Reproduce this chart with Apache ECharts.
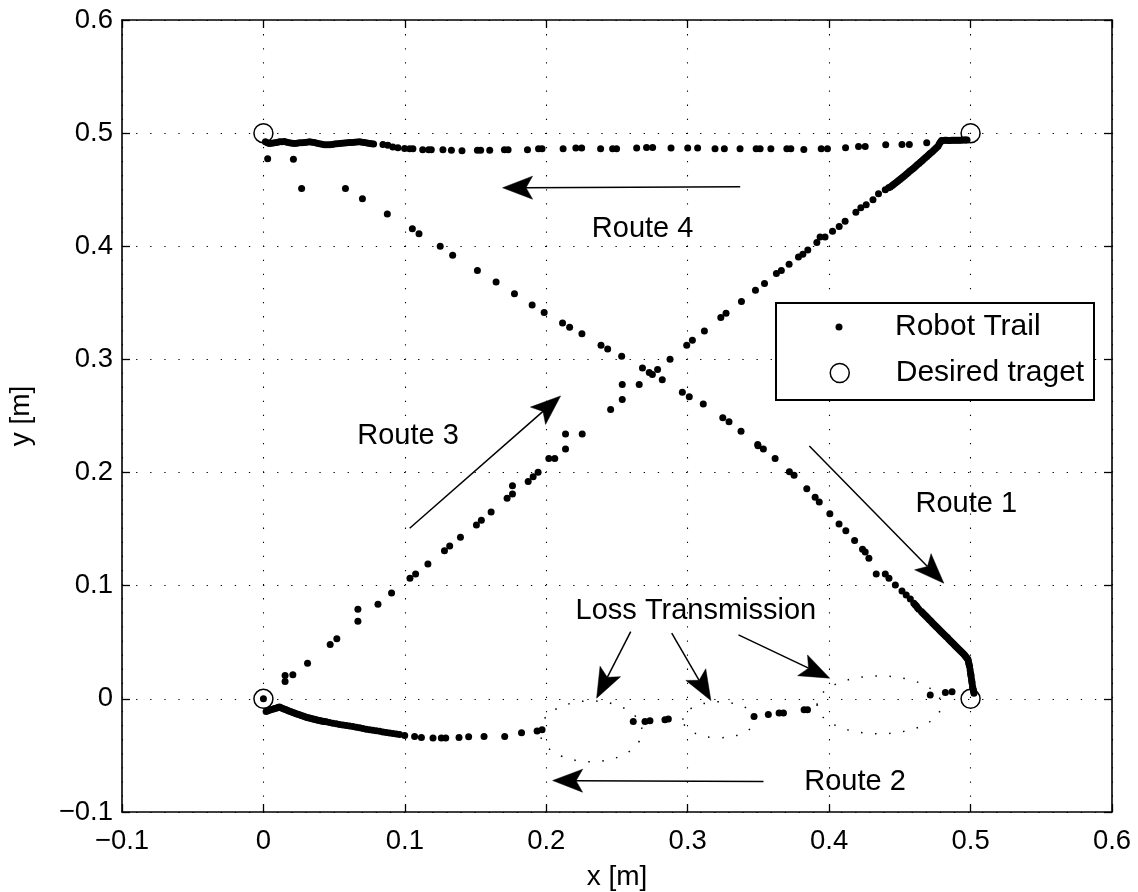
<!DOCTYPE html>
<html><head><meta charset="utf-8">
<script src="https://cdn.jsdelivr.net/npm/echarts@6/dist/echarts.min.js"></script>
<style>html,body{margin:0;padding:0;background:#fff}#chart{width:1138px;height:892px}</style>
</head><body><div id="chart"></div>
<script>
// ---------- data (metres) ----------
const xTicks = [-0.1, 0, 0.1, 0.2, 0.3, 0.4, 0.5, 0.6];
const yTicks = [-0.1, 0, 0.1, 0.2, 0.3, 0.4, 0.5, 0.6];

const targetPoints = [[0, 0.5], [0.5, 0.5], [0, 0], [0.5, 0]];

const route1Trail = [
  [0.003,0.4774],[0.0212,0.477],[0.027,0.451],[0.058,0.451],[0.070,0.442],[0.0876,0.4285],
  [0.1053,0.4156],[0.110,0.411],[0.125,0.400],[0.1338,0.392],[0.1513,0.3785],[0.1645,0.3685],
  [0.1775,0.358],[0.190,0.348],[0.1985,0.3415],[0.2115,0.3323],[0.2165,0.3285],[0.2252,0.3226],
  [0.2387,0.3126],[0.2434,0.3093],[0.2533,0.3029],[0.268,0.2925],[0.2728,0.2885],[0.275,0.2866],
  [0.282,0.282],[0.2962,0.271],[0.3011,0.267],[0.311,0.2605],[0.3248,0.2484],[0.3292,0.2449],
  [0.3377,0.2366],[0.3495,0.2249],[0.3497,0.2236],[0.3535,0.2208],[0.3618,0.2125],[0.3719,0.2007],
  [0.3752,0.1976],[0.3842,0.1857],[0.3901,0.1781],[0.393,0.174],[0.4005,0.1636],[0.407,0.1545],
  [0.4118,0.1486],[0.418,0.140],[0.4236,0.1322],[0.4255,0.1298],[0.4281,0.1242],[0.4333,0.1104],
  [0.4397,0.1104],[0.4423,0.1066],[0.4468,0.1007],[0.4515,0.0954],[0.4545,0.0918],[0.4574,0.0883],
  [0.4599,0.0845],[0.4608,0.0832],[0.4617,0.0820],[0.4625,0.0806],[0.4634,0.0792],[0.4652,0.0772],
  [0.4660,0.0761],[0.4669,0.0751],[0.4678,0.0740],[0.4687,0.0728],[0.4696,0.0716],[0.4705,0.0704],
  [0.4713,0.0694],[0.4722,0.0683],[0.4731,0.0671],[0.4740,0.0660],[0.4749,0.0649],[0.4758,0.0638],
  [0.4767,0.0627],[0.4776,0.0616],[0.4784,0.0605],[0.4793,0.0594],[0.4802,0.0583],[0.4811,0.0572],
  [0.4820,0.0561],[0.4829,0.0550],[0.4838,0.0539],[0.4846,0.0527],[0.4855,0.0516],[0.4864,0.0505],
  [0.4873,0.0494],[0.4882,0.0483],[0.4890,0.0472],[0.4899,0.0461],[0.4908,0.0450],[0.4917,0.0439],
  [0.4926,0.0428],[0.4935,0.0417],[0.4944,0.0406],[0.4953,0.0395],[0.4960,0.0384],[0.4967,0.0373],
  [0.4974,0.0362],[0.4981,0.0351],[0.4984,0.0334],[0.4987,0.0318],[0.4990,0.0301],[0.4993,0.0285],
  [0.4997,0.0256],[0.5000,0.0227],[0.5002,0.0212],[0.5004,0.0198],[0.5007,0.0168],[0.5009,0.0153],
  [0.5011,0.0139],[0.5014,0.0109],[0.5016,0.0094],[0.5019,0.0080],[0.5022,0.0065],[0.5024,0.0050]
];

const route2Trail = [
  [0.0019,-0.0112],[0.0030,-0.0106],[0.0042,-0.0100],[0.0054,-0.0095],[0.0066,-0.0091],[0.0078,-0.0086],
  [0.0090,-0.0082],[0.0101,-0.0077],[0.0113,-0.0073],[0.0125,-0.0079],[0.0137,-0.0085],[0.0149,-0.0091],
  [0.0161,-0.0097],[0.0172,-0.0103],[0.0184,-0.0109],[0.0196,-0.0115],[0.0208,-0.0121],[0.0219,-0.0126],
  [0.0231,-0.0131],[0.0243,-0.0136],[0.0255,-0.0141],[0.0267,-0.0147],[0.0279,-0.0152],[0.0290,-0.0157],
  [0.0302,-0.0162],[0.0314,-0.0166],[0.0326,-0.0170],[0.0338,-0.0174],[0.0349,-0.0177],[0.0361,-0.0181],
  [0.0373,-0.0185],[0.0385,-0.0189],[0.0397,-0.0192],[0.0408,-0.0195],[0.0420,-0.0198],[0.0432,-0.0201],
  [0.0444,-0.0203],[0.0467,-0.0209],[0.0491,-0.0215],[0.0515,-0.0221],[0.0538,-0.0227],[0.0562,-0.0232],
  [0.0586,-0.0236],[0.0609,-0.0241],[0.0633,-0.0245],[0.0657,-0.0251],[0.0680,-0.0256],[0.0703,-0.0262],
  [0.0727,-0.0268],[0.0751,-0.0273],[0.0774,-0.0277],[0.0798,-0.0282],[0.0822,-0.0286],[0.0845,-0.0292],
  [0.0869,-0.0298],[0.0892,-0.0302],[0.0916,-0.0306],[0.0940,-0.0311],[0.0963,-0.0315],[0.0999,-0.0324],
  [0.1069,-0.0333],[0.1117,-0.0342],[0.1199,-0.0347],[0.1258,-0.0347],[0.1289,-0.0345],[0.1383,-0.0342],
  [0.1451,-0.0336],[0.156,-0.0333],[0.1706,-0.0333],[0.1825,-0.030],[0.1935,-0.0283],[0.197,-0.0274],
  [0.2615,-0.020],[0.2698,-0.020],[0.2733,-0.0194],[0.2839,-0.0185],[0.2863,-0.0179],
  [0.3469,-0.0156],[0.357,-0.0139],[0.3646,-0.0126],[0.3677,-0.0126],[0.3823,-0.0097],[0.3847,-0.0097],
  [0.4715,0.0035],[0.4822,0.0056],[0.4869,0.0062]
];

const route3Trail = [
  [0.0,0.0],[0.0153,0.0206],[0.0208,0.0212],[0.0153,0.0153],[0.0312,0.0315],[0.0472,0.048],[0.0519,0.0532],
  [0.0668,0.0792],[0.0668,0.0686],[0.081,0.0836],[0.0906,0.0936],[0.1036,0.1066],[0.1076,0.1104],
  [0.1163,0.1192],[0.128,0.131],[0.1317,0.1351],[0.1393,0.1428],[0.1506,0.1536],[0.1541,0.1578],
  [0.161,0.1651],[0.1723,0.1772],[0.1761,0.181],[0.1761,0.1883],[0.1872,0.1922],[0.1907,0.1963],
  [0.1942,0.2002],[0.2018,0.2125],[0.206,0.2125],[0.2136,0.2208],[0.2136,0.234],[0.2254,0.234],
  [0.2455,0.2558],[0.2537,0.2646],[0.2537,0.2779],[0.2657,0.2779],[0.2787,0.291],[0.2875,0.3002],
  [0.2993,0.3126],[0.3033,0.317],[0.3118,0.3252],[0.3234,0.337],[0.3271,0.3408],[0.338,0.3512],
  [0.3479,0.3611],[0.3543,0.367],[0.3627,0.3759],[0.3662,0.3785],[0.3717,0.3841],[0.3783,0.3906],
  [0.3814,0.393],[0.3849,0.3967],[0.3913,0.4033],[0.3936,0.4082],[0.3971,0.4082],[0.4024,0.4132],
  [0.4071,0.4174],[0.4113,0.4221],[0.4189,0.43],[0.4224,0.4341],[0.4262,0.4367],[0.431,0.4412],
  [0.4349,0.4465],[0.4397,0.45],[0.442,0.4518],
  [0.4432,0.4524],[0.4444,0.4535],[0.4455,0.4545],[0.4466,0.4557],[0.4478,0.4568],[0.4489,0.4579],
  [0.4500,0.4590],[0.4511,0.4601],[0.4522,0.4612],[0.4533,0.4624],[0.4545,0.4636],[0.4556,0.4648],
  [0.4567,0.4660],[0.4578,0.4672],[0.4590,0.4683],[0.4601,0.4695],[0.4612,0.4707],[0.4623,0.4720],
  [0.4635,0.4732],[0.4646,0.4745],[0.4657,0.4757],[0.4668,0.4770],[0.4680,0.4782],[0.4691,0.4794],
  [0.4702,0.4806],[0.4713,0.4819],[0.4725,0.4832],[0.4736,0.4845],[0.4747,0.4858],[0.4758,0.4872],
  [0.4770,0.4885],[0.4778,0.4903],[0.4786,0.4920],
  [0.4795,0.4934],[0.4805,0.4936],[0.4818,0.4937],[0.4830,0.4937],[0.4843,0.4936],[0.4855,0.4936],
  [0.4868,0.4937],[0.4880,0.4938],[0.4893,0.4937],[0.4905,0.4937],[0.4918,0.4938],[0.4930,0.4938],
  [0.4943,0.4939],[0.4955,0.4940],[0.4965,0.4940],[0.4975,0.4940]
];

const route4Trail = [
  [0.469,0.4916],[0.4567,0.490],[0.4515,0.490],[0.440,0.4898],[0.4255,0.4883],[0.4208,0.4883],
  [0.4116,0.4871],[0.3988,0.4862],[0.3944,0.4862],[0.3821,0.4856],[0.3729,0.4862],[0.3701,0.4862],
  [0.3588,0.4862],[0.3512,0.4862],[0.3484,0.4862],[0.337,0.4862],[0.3259,0.4862],[0.3193,0.4862],
  [0.307,0.4868],[0.300,0.4868],[0.2882,0.4868],[0.2752,0.4874],[0.2709,0.4874],[0.2639,0.4868],
  [0.2497,0.4863],[0.2469,0.4863],[0.2384,0.4863],[0.225,0.4868],[0.2209,0.4868],[0.2119,0.4863],
  [0.197,0.4863],[0.1945,0.4863],[0.1867,0.4853],[0.173,0.4853],[0.1704,0.4853],[0.160,0.4848],
  [0.1536,0.4848],[0.1513,0.4848],[0.1404,0.4845],[0.1329,0.4848],[0.1269,0.4853],[0.1187,0.4853],
  [0.1168,0.4853],[0.1126,0.4853],[0.1057,0.4861],[0.1034,0.4861],[0.0998,0.4864],[0.0951,0.4871],
  [0.0915,0.4877],[0.088,0.4892],[0.0845,0.490],
  [0.0779,0.4903],[0.0765,0.4906],[0.0751,0.4909],[0.0733,0.4913],[0.0715,0.4917],[0.0697,0.4920],
  [0.068,0.4923],[0.0662,0.4922],[0.0644,0.492],[0.0626,0.4918],[0.0609,0.4917],[0.0591,0.4914],
  [0.0574,0.4912],[0.0556,0.4910],[0.0538,0.4909],[0.0520,0.4906],[0.0503,0.4903],[0.0485,0.4900],
  [0.0467,0.4897],[0.0450,0.4897],[0.0432,0.4897],[0.0414,0.4901],[0.0397,0.4906],[0.0379,0.4911],
  [0.0361,0.4917],[0.0343,0.4920],[0.0326,0.4923],[0.0308,0.4920],[0.029,0.4917],[0.0272,0.4915],
  [0.0255,0.4914],[0.0237,0.4911],[0.022,0.4909],[0.0202,0.4911],[0.0184,0.4914],[0.0166,0.4920],
  [0.0149,0.4926],[0.0131,0.4925],[0.0113,0.4923],[0.0095,0.4918],[0.0078,0.4914],[0.0060,0.4911],
  [0.0042,0.4909],[0.0028,0.4916],[0.0014,0.4923]
];

// dotted "loss transmission" ellipses: [centreX, centreY, radiusX, radiusY]
const lossEllipses = [
  [0.2316, -0.0287, 0.0361, 0.0269],
  [0.3221, -0.0185, 0.0255, 0.0159],
  [0.4354, -0.0053, 0.0439, 0.0256]
];

// annotation arrows: [tailX, tailY, tipX, tipY]
const annotationArrows = [
  [0.3371, 0.4526, 0.1691, 0.4517],   // Route 4
  [0.1034, 0.1508, 0.2101, 0.2677],   // Route 3
  [0.3860, 0.2235, 0.4811, 0.1022],   // Route 1
  [0.3536, -0.0731, 0.2045, -0.0722], // Route 2
  [0.2597, 0.0595, 0.2356, 0.0006],   // Loss 1
  [0.2887, 0.0580, 0.3164, -0.0015],  // Loss 2
  [0.3359, 0.0565, 0.4004, 0.0183]    // Loss 3
];

const annotationTexts = ['Route 4', 'Route 3', 'Route 1', 'Route 2', 'Loss Transmission'];
const annotationPositions = [
  [0.2681, 0.4151], [0.1022, 0.2324], [0.4970, 0.1719], [0.4183, -0.0733], [0.3058, 0.0776]
];

// ---------- chart ----------
const FONT = "'Liberation Sans', Arial, Helvetica, sans-serif";
const robotTrail = route1Trail.concat(route2Trail, route3Trail, route4Trail);

function tickFmt(v) {
  if (Math.abs(v) < 1e-9) return '0';
  return v.toFixed(1).replace('-', '\u2212');
}

const gridDash = { color: '#000', width: 1.1, type: [1.3, 12.8] };
const axisLineStyle = { color: '#000', width: 1.6 };

function mainAxis(pos, isX) {
  return {
    type: 'value', position: pos,
    min: xTicks[0], max: xTicks[xTicks.length - 1], interval: 0.1,
    axisLine: { show: true, onZero: false, lineStyle: axisLineStyle },
    axisTick: { show: true, inside: true, length: 8, lineStyle: { color: '#000', width: 1.3 } },
    axisLabel: { show: true, formatter: tickFmt, fontSize: 27.5, color: '#000', fontFamily: FONT, margin: isX ? 15 : 9 },
    splitLine: { show: true, lineStyle: gridDash },
    name: isX ? 'x [m]' : 'y [m]',
    nameLocation: 'middle',
    nameGap: isX ? 51 : 87,
    nameTextStyle: { fontSize: 28, color: '#000', fontFamily: FONT }
  };
}
function boxAxis(pos) {
  return {
    type: 'value', position: pos,
    min: -0.1, max: 0.6, interval: 0.1,
    axisLine: { show: true, onZero: false, lineStyle: axisLineStyle },
    axisTick: { show: true, inside: true, length: 8, lineStyle: { color: '#000', width: 1.3 } },
    axisLabel: { show: false },
    splitLine: { show: false }
  };
}

const chart = echarts.init(document.getElementById('chart'), null, { renderer: 'canvas' });

chart.setOption({
  backgroundColor: '#fff',
  animation: false,
  grid: { left: 122, right: 26, top: 20, bottom: 80, containLabel: false, outerBoundsMode: 'none' },
  xAxis: [mainAxis('bottom', true), boxAxis('top')],
  yAxis: [Object.assign(mainAxis('left', false), { min: yTicks[0], max: yTicks[yTicks.length - 1] }), boxAxis('right')],
  legend: [
    {
      data: ['Robot Trail'], orient: 'vertical', left: 835.5, top: 312, padding: 0,
      itemWidth: 7, itemHeight: 7, selectedMode: false, z: 6,
      itemStyle: { color: '#000', borderWidth: 0 },
      textStyle: { fontSize: 30, color: '#000', fontFamily: FONT, padding: [0, 0, 0, 47.5] }
    },
    {
      data: ['Desired traget'], orient: 'vertical', left: 829.5, top: 358, padding: 0,
      itemWidth: 19, itemHeight: 19, selectedMode: false, z: 6,
      itemStyle: { color: 'rgba(0,0,0,0)', borderColor: '#000', borderWidth: 1.5 },
      textStyle: { fontSize: 30, color: '#000', fontFamily: FONT, padding: [0, 0, 0, 41.5] }
    }
  ],
  graphic: [{
    type: 'rect', left: 775, top: 302, z: 5,
    shape: { width: 318, height: 97 },
    style: { fill: '#fff', stroke: '#000', lineWidth: 2 }
  }],
  series: [
    {
      type: 'custom', name: 'loss', xAxisIndex: 0, yAxisIndex: 0, z: 2,
      data: lossEllipses,
      encode: { x: 0, y: 1 },
      renderItem: function (params, api) {
        const c = api.coord([api.value(0), api.value(1)]);
        const s = api.size([api.value(2), api.value(3)]);
        return {
          type: 'ellipse',
          shape: { cx: c[0], cy: c[1], rx: s[0], ry: s[1] },
          style: { fill: 'none', stroke: '#000', lineWidth: 1.5, lineDash: [1.5, 12.5] }
        };
      }
    },
    {
      type: 'scatter', name: 'Robot Trail', z: 3,
      symbol: 'circle', symbolSize: 7,
      itemStyle: { color: '#000', opacity: 1 },
      data: robotTrail
    },
    {
      type: 'scatter', name: 'Desired traget', z: 4,
      symbol: 'circle', symbolSize: 19,
      itemStyle: { color: 'rgba(0,0,0,0)', borderColor: '#000', borderWidth: 1.5, opacity: 1 },
      data: targetPoints
    },
    {
      type: 'custom', name: 'arrows', z: 4,
      data: annotationArrows,
      encode: { x: [0, 2], y: [1, 3] },
      renderItem: function (params, api) {
        const a = api.coord([api.value(0), api.value(1)]);
        const b = api.coord([api.value(2), api.value(3)]);
        const dx = b[0] - a[0], dy = b[1] - a[1];
        const len = Math.sqrt(dx * dx + dy * dy);
        const ux = dx / len, uy = dy / len;
        const px = -uy, py = ux;
        const L = 30, W = 11.5, N = 0.78 * L;
        const base = [b[0] - ux * L, b[1] - uy * L];
        const notch = [b[0] - ux * N, b[1] - uy * N];
        return {
          type: 'group',
          children: [
            { type: 'line', shape: { x1: a[0], y1: a[1], x2: notch[0], y2: notch[1] },
              style: { stroke: '#000', lineWidth: 1.5 } },
            { type: 'polygon', shape: { points: [b, [base[0] + px * W, base[1] + py * W], notch, [base[0] - px * W, base[1] - py * W]] },
              style: { fill: '#000', stroke: '#000', lineWidth: 0.5 } }
          ]
        };
      }
    },
    {
      type: 'custom', name: 'texts', z: 4,
      data: annotationPositions,
      encode: { x: 0, y: 1 },
      renderItem: function (params, api) {
        const p = api.coord([api.value(0), api.value(1)]);
        return {
          type: 'text', x: p[0], y: p[1],
          style: { text: annotationTexts[params.dataIndex], fontSize: 29, fontFamily: FONT,
                   fill: '#000', align: 'center', verticalAlign: 'middle' }
        };
      }
    }
  ]
});
</script></body></html>
